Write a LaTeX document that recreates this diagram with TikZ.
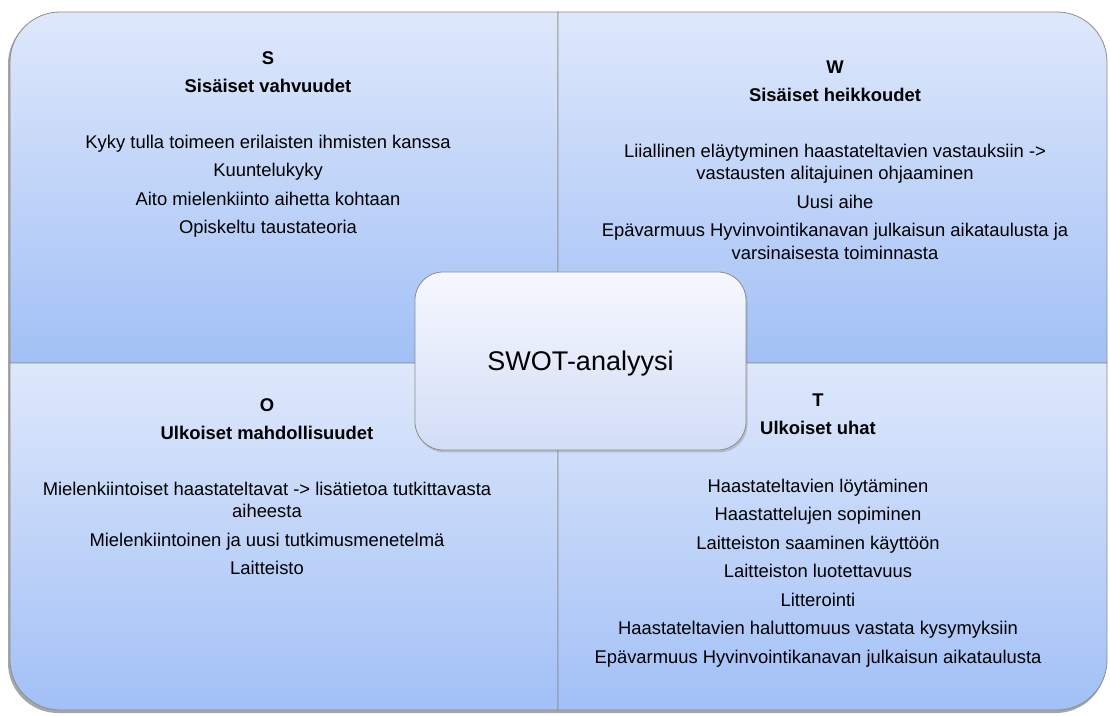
\documentclass[tikz,border=0pt]{standalone}
\usepackage{fontspec}
\setmainfont{Liberation Sans}
\definecolor{QuadTop}{RGB}{222,232,251}
\definecolor{QuadBottom}{RGB}{162,192,246}
\definecolor{BoxTop}{RGB}{246,248,254}
\definecolor{BoxBottom}{RGB}{210,221,246}
\definecolor{EdgeGray}{RGB}{140,140,140}
\usepackage{tikz}
\usetikzlibrary{positioning, shadows}
\tikzstyle{quad} = [draw=EdgeGray, line width=0.8pt, top color=QuadTop, bottom color=QuadBottom]
\tikzstyle{quadtext} = [align=center, inner sep=0pt, anchor=north, font=\fontsize{18.4}{22.5}\selectfont]
\tikzstyle{centerbox} = [draw=EdgeGray, line width=0.8pt, rounded corners=28pt, top color=BoxTop, bottom color=BoxBottom, minimum width=331pt, minimum height=178pt, text depth=0pt, font=\fontsize{27}{30}\selectfont, drop shadow={shadow xshift=1.5pt, shadow yshift=-2.5pt, opacity=0.35}]

\begin{document}
\begin{tikzpicture}[x=1pt, y=1pt]
    \useasboundingbox (0,0) rectangle (1110,715);
    % SWOT quadrants
    \fill[black!35, rounded corners=50pt] (8,2) rectangle (1106,701);
    \path[quad] (558,352) -- (10,352) -- (10,653) arc[start angle=180, end angle=90, radius=50] -- (558,703) -- cycle;
    \path[quad] (558,352) -- (558,703) -- (1057,703) arc[start angle=90, end angle=0, radius=50] -- (1107,352) -- cycle;
    \path[quad] (558,352) -- (10,352) -- (10,55) arc[start angle=180, end angle=270, radius=50] -- (558,5) -- cycle;
    \path[quad] (558,352) -- (558,5) -- (1057,5) arc[start angle=270, end angle=360, radius=50] -- (1107,352) -- cycle;

    \node[quadtext] (strengths) at (268,663.6) {\textbf{S}\\[6pt]\textbf{Sisäiset vahvuudet}\\[33pt]Kyky tulla toimeen erilaisten ihmisten kanssa\\[6pt]Kuuntelukyky\\[6pt]Aito mielenkiinto aihetta kohtaan\\[6pt]Opiskeltu taustateoria};
    \node[quadtext] (weaknesses) at (835,654.6) {\textbf{W}\\[6pt]\textbf{Sisäiset heikkoudet}\\[33pt]Liiallinen eläytyminen haastateltavien vastauksiin ->\\vastausten alitajuinen ohjaaminen\\[6pt]Uusi aihe\\[6pt]Epävarmuus Hyvinvointikanavan julkaisun aikataulusta ja\\varsinaisesta toiminnasta};
    \node[quadtext] (opportunities) at (267,316.6) {\textbf{O}\\[6pt]\textbf{Ulkoiset mahdollisuudet}\\[33pt]Mielenkiintoiset haastateltavat -> lisätietoa tutkittavasta\\aiheesta\\[6pt]Mielenkiintoinen ja uusi tutkimusmenetelmä\\[6pt]Laitteisto};
    \node[quadtext] (threats) at (818,321.6) {\textbf{T}\\[6pt]\textbf{Ulkoiset uhat}\\[35pt]Haastateltavien löytäminen\\[6pt]Haastattelujen sopiminen\\[6pt]Laitteiston saaminen käyttöön\\[6pt]Laitteiston luotettavuus\\[6pt]Litterointi\\[6pt]Haastateltavien haluttomuus vastata kysymyksiin\\[6pt]Epävarmuus Hyvinvointikanavan julkaisun aikataulusta};

    \node[centerbox] (swot) at (580.5,354) {SWOT-analyysi};
\end{tikzpicture}
\end{document}
